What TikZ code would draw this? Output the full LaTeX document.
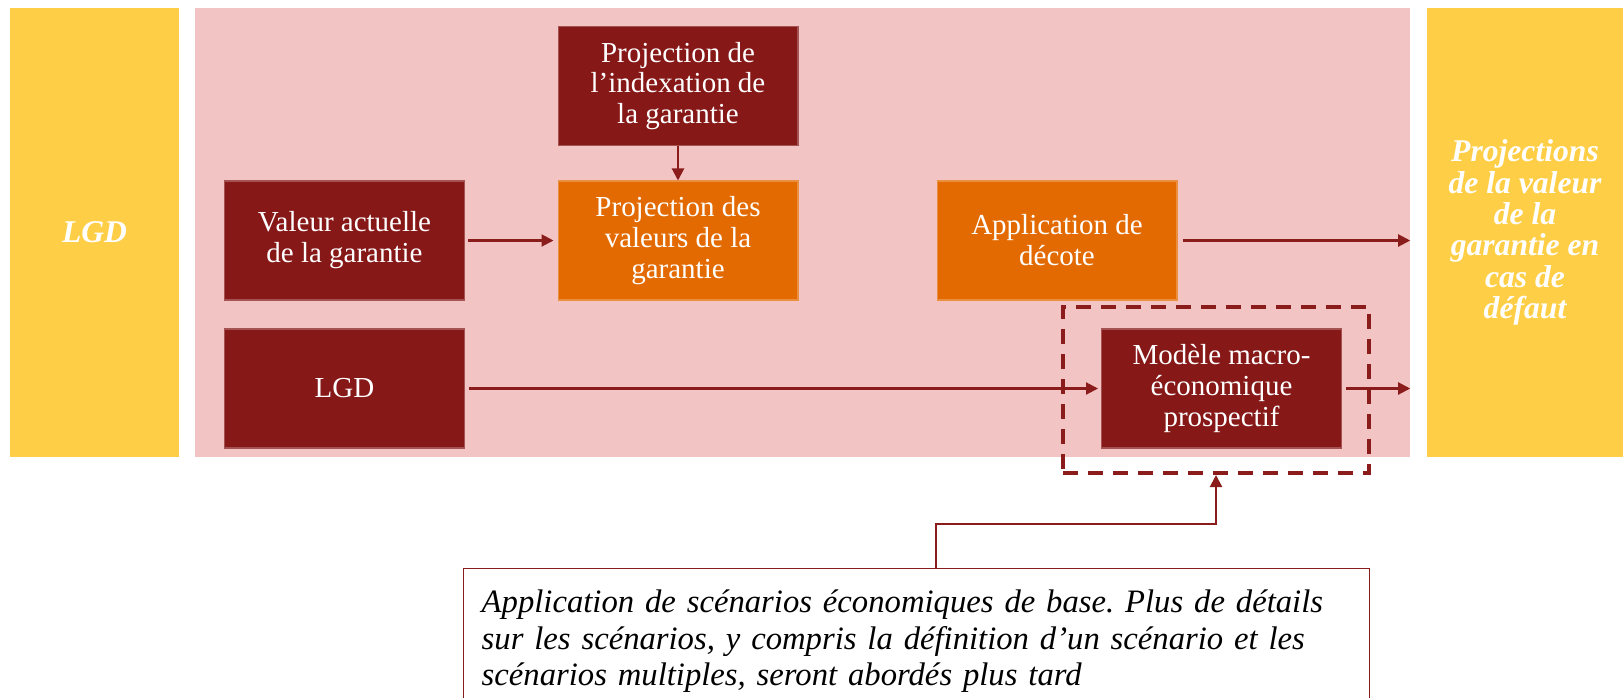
\documentclass[tikz,border=0pt]{standalone}
\usepackage{fontspec}
\setmainfont{Liberation Serif}
\usepackage{tikz}
\usetikzlibrary{arrows.meta, positioning}
\frenchspacing

\definecolor{lgdred}{HTML}{861818}
\definecolor{lgdorange}{HTML}{E36A00}
\definecolor{lgdpink}{HTML}{F2C4C4}
\definecolor{lgdyellow}{HTML}{FFCE47}
\definecolor{linkred}{HTML}{8B1C1C}

\begin{document}
\begin{tikzpicture}[x=0.02cm, y=-0.02cm,
    sidebar/.style={fill=lgdyellow, minimum height=8.98cm, inner sep=0pt, align=center, text=white,
        font=\fontsize{18}{17.8}\selectfont\bfseries\itshape},
    procbox/.style={minimum width=4.8cm, minimum height=2.38cm, align=center, text=white,
        font=\fontsize{16.5}{17.6}\selectfont, inner sep=2pt, line width=0.6pt},
    darkbox/.style={procbox, fill=lgdred, draw=lgdred!75!white},
    hotbox/.style={procbox, fill=lgdorange, draw=lgdorange!75!white},
    flow/.style={-{Triangle[length=0.24cm, width=0.24cm]}, draw=linkred, line width=1.2pt},
]
  \useasboundingbox (0,0) rectangle (1623,697);

  % bands
  \node[sidebar, minimum width=3.38cm] (lbar) at (94.5,232.5) {LGD};
  \node[fill=lgdpink, minimum width=24.3cm, minimum height=8.98cm, inner sep=0pt] (bg) at (802.5,232.5) {};
  \node[sidebar, minimum width=3.92cm] (rbar) at (1525,232.5) {%
    Projections\\ de la valeur\\ de la\\ garantie en\\ cas de\\ défaut};

  % process boxes
  \node[darkbox] (idx) at (678,86) {Projection de\\ l’indexation de\\ la garantie};
  \node[darkbox] (val) at (344.5,240.5) {Valeur actuelle\\ de la garantie};
  \node[hotbox] (proj) at (678,240.5) {Projection des\\ valeurs de la\\ garantie};
  \node[hotbox] (app) at (1057,240.5) {Application de\\ décote};
  \node[darkbox] (lgd) at (344.5,388.5) {LGD};
  \node[darkbox] (mod) at (1221.5,388.5) {Modèle macro-\\ économique\\ prospectif};

  \draw[flow, shorten <=0.06cm, shorten >=0.08cm] (val) -- (proj);
  \draw[flow] (idx) -- (proj);
  \draw[flow, shorten <=0.1cm] (app) -- (app -| bg.east);
  \draw[flow, shorten <=0.08cm, shorten >=0.06cm] (lgd) -- (mod);
  \draw[flow, shorten <=0.08cm] (mod) -- (mod -| bg.east);

  \node[draw=linkred, line width=2.3pt, dash pattern=on 0.3cm off 0.2cm,
        minimum width=6.12cm, minimum height=3.32cm] (dash) at (1216,390) {};

  % note
  \node[draw=linkred, line width=0.8pt, fill=white, anchor=north west, align=left,
        text width=17.4cm, inner xsep=0.36cm, inner ysep=0.42cm,
        font=\fontsize{18.6}{20.9}\selectfont\itshape] (note) at (463,568) {%
    Application de scénarios économiques de base. Plus de détails\\
    sur les scénarios, y compris la définition d’un scénario et les\\
    scénarios multiples, seront abordés plus tard};
  \draw[flow] ([xshift=0.38cm]note.north) -- ++(0,-44) -| (dash.south);
\end{tikzpicture}
\end{document}
